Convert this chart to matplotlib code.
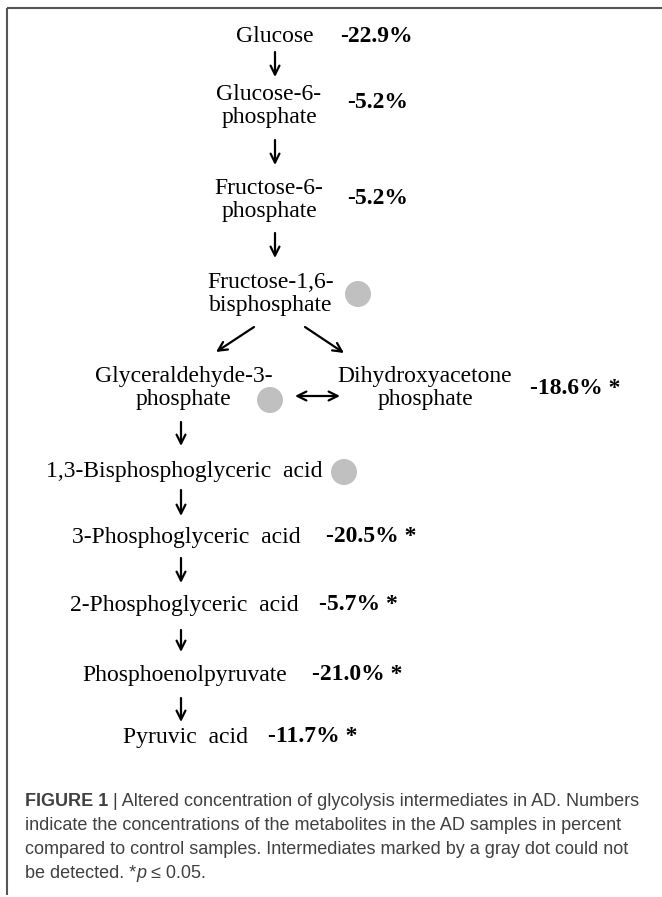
import matplotlib
matplotlib.use("Agg")
import matplotlib.pyplot as plt
from matplotlib.patches import Circle

# ---------------- data ----------------
metabolites = ["Glucose", "Glucose-6-\nphosphate", "Fructose-6-\nphosphate",
               "Fructose-1,6-\nbisphosphate", "Glyceraldehyde-3-\nphosphate",
               "Dihydroxyacetone\nphosphate", "1,3-Bisphosphoglyceric  acid",
               "3-Phosphoglyceric  acid", "2-Phosphoglyceric  acid",
               "Phosphoenolpyruvate", "Pyruvic  acid"]
change_pct = [-22.9, -5.2, -5.2, None, None, -18.6, None, -20.5, -5.7, -21.0, -11.7]
significant = [False, False, False, False, False, True, False, True, True, True, True]

caption_bold = "FIGURE 1"
caption_lines = [
    " | Altered concentration of glycolysis intermediates in AD. Numbers",
    "indicate the concentrations of the metabolites in the AD samples in percent",
    "compared to control samples. Intermediates marked by a gray dot could not",
]
caption_last = ["be detected. *", "p", " \u2264 0.05."]

# ---------------- layout (pixel space) ----------------
W, H = 662, 897
fig = plt.figure(figsize=(W / 100, H / 100), dpi=100)
ax = fig.add_axes([0, 0, 1, 1])
ax.set_xlim(0, W)
ax.set_ylim(H, 0)
ax.axis("off")

serif = "Liberation Serif"
fs = 17
# (anchor x, y, ha) for each metabolite name
name_pos = [(275, 37, "center"), (269, 106, "center"), (269, 200, "center"),
            (271, 294, "center"), (184, 388, "center"), (425, 388, "center"),
            (46, 472, "left"), (72, 537, "left"), (70, 605, "left"),
            (82, 675, "left"), (123, 737, "left")]
value_pos = [(340, 37), (347, 103), (347, 198), None, None, (530, 389),
             None, (326, 537), (319, 605), (312, 675), (268, 737)]
dot_pos = {3: (358, 294), 4: (270, 400), 6: (344, 472)}

for i, name in enumerate(metabolites):
    x, y, ha = name_pos[i]
    ax.text(x, y, name, ha=ha, va="center", fontsize=fs, family=serif,
            linespacing=1.18, multialignment="center")
    v = change_pct[i]
    if v is not None:
        vx, vy = value_pos[i]
        label = f"{v:.1f}%" + (" *" if significant[i] else "")
        ax.text(vx, vy, label, ha="left", va="center", fontsize=fs,
                family=serif, fontweight="bold")
    if i in dot_pos:
        ax.add_patch(Circle(dot_pos[i], 13, color="#c0c0c0", lw=0))

arrow_kw = dict(arrowstyle="->", lw=1.6, color="black", mutation_scale=16,
                shrinkA=0, shrinkB=0)
down_arrows = [(275, 52, 77), (275, 140, 165), (275, 233, 258),
               (181, 422, 446), (181, 490, 516), (181, 558, 583),
               (181, 630, 652), (181, 698, 722)]
for x, y0, y1 in down_arrows:
    ax.annotate("", xy=(x, y1), xytext=(x, y0), arrowprops=arrow_kw)
ax.annotate("", xy=(216, 352), xytext=(254, 327), arrowprops=arrow_kw)
ax.annotate("", xy=(344, 353), xytext=(305, 327), arrowprops=arrow_kw)
ax.annotate("", xy=(340, 396), xytext=(295, 396),
            arrowprops=dict(arrow_kw, arrowstyle="<->"))

# frame lines (top and left)
ax.plot([7, W], [8, 8], color="#555555", lw=1.5, solid_capstyle="butt")
ax.plot([7, 7], [8, 895], color="#555555", lw=1.5, solid_capstyle="butt")

# ---------------- caption ----------------
cap_font = "Liberation Sans"
cfs = 13
ccol = "#404040"
fig.canvas.draw()
renderer = fig.canvas.get_renderer()
inv = ax.transData.inverted()


def place(x, y, s, **kw):
    t = ax.text(x, y, s, ha="left", va="center", fontsize=cfs, family=cap_font,
                color=ccol, **kw)
    bb = t.get_window_extent(renderer=renderer)
    return inv.transform((bb.x1, bb.y0))[0]


line_y = [802, 826, 850, 874]
x = place(25, line_y[0], caption_bold, fontweight="bold")
place(x, line_y[0], caption_lines[0])
place(25, line_y[1], caption_lines[1])
place(25, line_y[2], caption_lines[2])
x = place(25, line_y[3], caption_last[0])
x = place(x, line_y[3], caption_last[1], style="italic")
place(x, line_y[3], caption_last[2])

fig.savefig("out.png", dpi=100, facecolor="white")
